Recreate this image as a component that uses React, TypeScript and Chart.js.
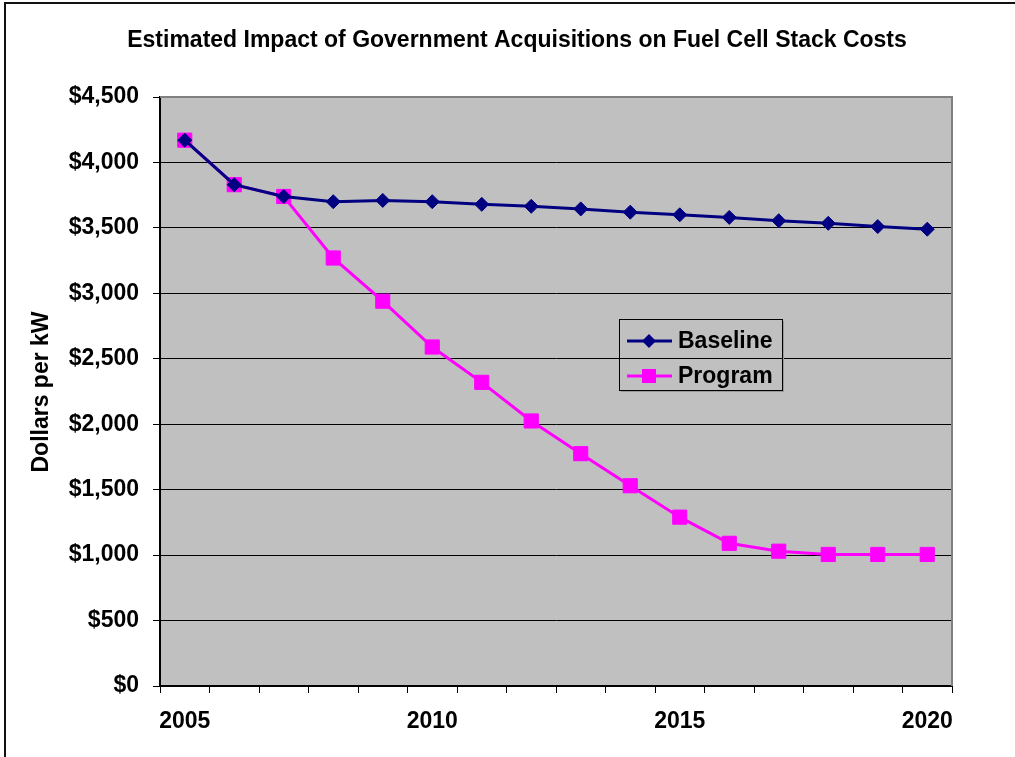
import React, { useEffect, useRef } from 'react';
import { Chart, registerables } from 'chart.js';

Chart.register(...registerables);

const years = ['2005', '2006', '2007', '2008', '2009', '2010', '2011', '2012', '2013', '2014', '2015', '2016', '2017', '2018', '2019', '2020'];
const labeledYears = ['2005', '2010', '2015', '2020'];
const baseline = [4170, 3830, 3740, 3700, 3710, 3700, 3680, 3665, 3645, 3620, 3600, 3580, 3555, 3535, 3510, 3490];
const program = [4170, 3830, 3740, 3270, 2940, 2590, 2320, 2025, 1775, 1530, 1290, 1090, 1030, 1005, 1005, 1005];
const seriesNames = ['Baseline', 'Program'];
const yMin = 0;
const yMax = 4500;
const yStep = 500;
const titleText = 'Estimated Impact of Government Acquisitions on Fuel Cell Stack Costs';
const yTitleText = 'Dollars per kW';

const FONT = '"Liberation Sans", Arial, sans-serif';
const NAVY = '#000080';
const MAGENTA = '#FF00FF';

const decorPlugin = {
  id: 'decor',
  beforeDraw(chart: any) {
    const { ctx, chartArea: a } = chart;
    ctx.save();
    ctx.fillStyle = '#ffffff';
    ctx.fillRect(0, 0, chart.width, chart.height);
    ctx.fillStyle = '#C0C0C0';
    ctx.fillRect(a.left, a.top, a.right - a.left, a.bottom - a.top);
    ctx.restore();
  },
  beforeDatasetsDraw(chart: any) {
    const { ctx, chartArea: a } = chart;
    ctx.save();
    ctx.strokeStyle = '#808080';
    ctx.lineWidth = 2;
    ctx.beginPath();
    ctx.moveTo(a.left, a.top);
    ctx.lineTo(a.right, a.top);
    ctx.lineTo(a.right, a.bottom);
    ctx.stroke();
    ctx.restore();
  },
  afterDraw(chart: any) {
    const { ctx } = chart;
    ctx.save();
    // outer border (top and left)
    ctx.fillStyle = '#111';
    ctx.fillRect(4, 2, chart.width - 4, 2);
    ctx.fillRect(4, 2, 2, chart.height - 2);

    // title
    ctx.fillStyle = '#000';
    ctx.font = `bold 23px ${FONT}`;
    ctx.textAlign = 'center';
    ctx.textBaseline = 'middle';
    ctx.fillText(titleText, 517, 41);

    // y title
    ctx.save();
    ctx.translate(42, 392);
    ctx.rotate(-Math.PI / 2);
    ctx.font = `bold 23px ${FONT}`;
    ctx.fillText(yTitleText, 0, 0);
    ctx.restore();

    // legend
    const bx = 619, by = 319, bw = 163, bh = 71;
    ctx.fillStyle = '#9a9a9a';
    ctx.fillRect(bx + 2, by + bh, bw, 2);
    ctx.fillRect(bx + bw, by + 2, 2, bh);
    ctx.strokeStyle = '#000';
    ctx.lineWidth = 1;
    ctx.strokeRect(bx + 0.5, by + 0.5, bw, bh);
    const rows = [341, 376];
    chart.data.datasets.forEach((ds: any, i: number) => {
      const y = rows[i];
      ctx.strokeStyle = ds.borderColor;
      ctx.lineWidth = 3;
      ctx.beginPath();
      ctx.moveTo(627, y);
      ctx.lineTo(672, y);
      ctx.stroke();
      ctx.fillStyle = ds.pointBackgroundColor;
      if (ds.pointStyle === 'rectRot') {
        ctx.beginPath();
        ctx.moveTo(649 - 7, y);
        ctx.lineTo(649, y - 7);
        ctx.lineTo(649 + 7, y);
        ctx.lineTo(649, y + 7);
        ctx.closePath();
        ctx.fill();
      } else {
        ctx.fillRect(649 - 7, y - 7, 14, 14);
      }
      ctx.fillStyle = '#000';
      ctx.font = `bold 23px ${FONT}`;
      ctx.textAlign = 'left';
      ctx.textBaseline = 'middle';
      ctx.fillText(ds.label, 678, y + 1);
    });
    ctx.restore();
  },
};

export default function App() {
  const ref = useRef<HTMLCanvasElement | null>(null);

  useEffect(() => {
    if (!ref.current) return;
    const chart = new Chart(ref.current, {
      type: 'line',
      data: {
        labels: years,
        datasets: [
          {
            label: seriesNames[0],
            data: baseline,
            borderColor: NAVY,
            backgroundColor: NAVY,
            pointBackgroundColor: NAVY,
            pointBorderColor: NAVY,
            pointStyle: 'rectRot',
            pointRadius: 7,
            pointBorderWidth: 1,
            borderWidth: 3,
            tension: 0,
          },
          {
            label: seriesNames[1],
            data: program,
            borderColor: MAGENTA,
            backgroundColor: MAGENTA,
            pointBackgroundColor: MAGENTA,
            pointBorderColor: MAGENTA,
            pointStyle: 'rect',
            pointRadius: 10,
            pointBorderWidth: 1,
            borderWidth: 3,
            tension: 0,
          },
        ],
      },
      options: {
        responsive: false,
        animation: false,
        devicePixelRatio: 1,
        layout: { padding: { left: 0, right: 63, top: 97, bottom: 21 } },
        plugins: {
          legend: { display: false },
          title: { display: false },
          tooltip: { enabled: false },
        },
        scales: {
          x: {
            type: 'category',
            offset: true,
            grid: {
              offset: true,
              drawOnChartArea: false,
              drawTicks: true,
              tickLength: 7,
              tickColor: '#000',
              lineWidth: 1,
            },
            border: { display: true, color: '#000', width: 2 },
            ticks: {
              autoSkip: false,
              maxRotation: 0,
              padding: 15,
              color: '#000',
              font: { family: FONT, size: 23, weight: 'bold' },
              callback: function (this: any, value: any) {
                const lab = this.getLabelForValue(value);
                return labeledYears.includes(lab) ? lab : '';
              },
            },
            afterFit(scale: any) {
              scale.height = 50;
            },
          },
          y: {
            min: yMin,
            max: yMax,
            grid: {
              color: (c: any) => (c.tick && c.tick.value === yMax ? '#808080' : '#000'),
              lineWidth: 1,
              drawTicks: true,
              tickLength: 7,
              tickColor: '#000',
            },
            border: { display: true, color: '#000', width: 2 },
            ticks: {
              stepSize: yStep,
              padding: 14,
              color: '#000',
              font: { family: FONT, size: 23, weight: 'bold' },
              callback: (v: any) => '$' + Number(v).toLocaleString('en-US'),
            },
            afterFit(scale: any) {
              scale.width = 160;
            },
          },
        },
      },
      plugins: [decorPlugin],
    });
    return () => chart.destroy();
  }, []);

  return (
    <div style={{ position: 'absolute', left: 0, top: 0, width: 1015, height: 757 }}>
      <canvas ref={ref} width={1015} height={757} style={{ width: 1015, height: 757, display: 'block' }} />
    </div>
  );
}
